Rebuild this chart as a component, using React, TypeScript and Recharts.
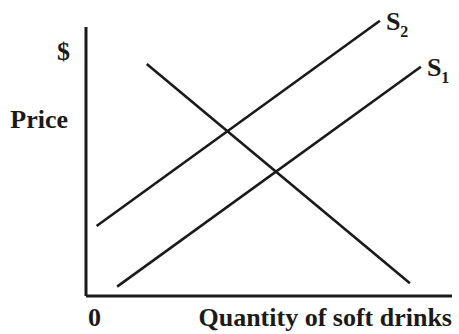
import React from "react";
import {
  ComposedChart,
  Line,
  XAxis,
  YAxis,
  ReferenceLine,
} from "recharts";

const INK = "#1a1a1a";
const FONT = "'Liberation Serif', 'Times New Roman', serif";

// quantity (0-100) vs price (0-110)
const supply2 = [
  { q: 2.9, p: 26.0 },
  { q: 80.3, p: 102.3 },
];
const supply1 = [
  { q: 8.5, p: 3.5 },
  { q: 91.5, p: 85.2 },
];
const demand = [
  { q: 16.6, p: 86.2 },
  { q: 88.5, p: 4.7 },
];

const xTitle = "Quantity of soft drinks";
const yTitle = "Price";
const yUnit = "$";
const origin = "0";

function endLabel(name: string, sub: string, count: number) {
  return (props: any) => {
    if (props.index !== count - 1) return <g key={`l${props.index}`} />;
    return (
      <text
        key={name}
        x={props.x + 6}
        y={props.y + 9}
        fontFamily={FONT}
        fontWeight="bold"
        fontSize={26}
        fill={INK}
      >
        {name}
        <tspan fontSize={16} dy={7.5}>
          {sub}
        </tspan>
      </text>
    );
  };
}

function XTitle(props: any) {
  const { x, y, width } = props.viewBox;
  return (
    <g fontFamily={FONT} fontWeight="bold" fontSize={26} fill={INK}>
      <text x={x + 2} y={y + 30}>
        {origin}
      </text>
      <text x={x + width} y={y + 30} textAnchor="end">
        {xTitle}
      </text>
    </g>
  );
}

function YTitle(props: any) {
  const { x, y } = props.viewBox;
  return (
    <g fontFamily={FONT} fontWeight="bold" fontSize={26} fill={INK}>
      <text x={x + 70} y={y + 60} textAnchor="end">
        {yUnit}
      </text>
      <text x={x + 68} y={y + 128} textAnchor="end">
        {yTitle}
      </text>
    </g>
  );
}

export default function App() {
  return (
    <div style={{ position: "absolute", left: 0, top: 0, background: "#fff" }}>
      <ComposedChart
        width={459}
        height={334}
        margin={{ top: 0, right: 7, bottom: 0, left: 0 }}
      >
        <XAxis
          type="number"
          dataKey="q"
          domain={[0, 100]}
          height={38}
          tick={false}
          tickLine={false}
          axisLine={{ stroke: INK, strokeWidth: 3 }}
          label={<XTitle />}
        />
        <YAxis
          type="number"
          dataKey="p"
          domain={[0, 110]}
          width={86}
          tick={false}
          tickLine={false}
          axisLine={false}
          label={<YTitle />}
        />
        <ReferenceLine
          segment={[
            { x: 0, y: 0 },
            { x: 0, y: 100 },
          ]}
          stroke={INK}
          strokeWidth={3}
          ifOverflow="visible"
        />
        <Line
          data={supply2}
          dataKey="p"
          type="linear"
          stroke={INK}
          strokeWidth={2.6}
          dot={false}
          isAnimationActive={false}
          label={endLabel("S", "2", supply2.length)}
        />
        <Line
          data={supply1}
          dataKey="p"
          type="linear"
          stroke={INK}
          strokeWidth={2.6}
          dot={false}
          isAnimationActive={false}
          label={endLabel("S", "1", supply1.length)}
        />
        <Line
          data={demand}
          dataKey="p"
          type="linear"
          stroke={INK}
          strokeWidth={2.6}
          dot={false}
          isAnimationActive={false}
        />
      </ComposedChart>
    </div>
  );
}
